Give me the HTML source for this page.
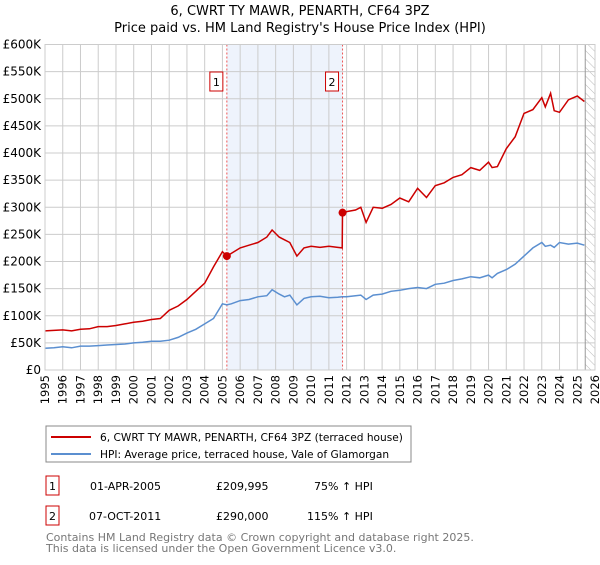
<!DOCTYPE html>
<html><head><meta charset="utf-8"><style>
body{margin:0;background:#fff;font-family:"Liberation Sans","DejaVu Sans",sans-serif;}
svg text{font-family:"DejaVu Sans","Liberation Sans",sans-serif;}
</style></head><body>
<svg id="c" width="600" height="560" xmlns="http://www.w3.org/2000/svg">
<defs><pattern id="hatch" width="6" height="6" patternUnits="userSpaceOnUse" patternTransform="rotate(-45)"><line x1="0" y1="0" x2="0" y2="6" stroke="#bbb" stroke-width="1"/></pattern></defs>
<text x="300" y="15" text-anchor="middle" font-size="13">6, CWRT TY MAWR, PENARTH, CF64 3PZ</text>
<text x="300" y="32" text-anchor="middle" font-size="13">Price paid vs. HM Land Registry's House Price Index (HPI)</text>
<g id="plot"></g>
<g>
<rect x="46" y="426" width="365" height="36" fill="#fff" stroke="#888"/>
<line x1="51" y1="437" x2="91" y2="437" stroke="#cc0000" stroke-width="2"/>
<text x="100" y="441" font-size="10.6">6, CWRT TY MAWR, PENARTH, CF64 3PZ (terraced house)</text>
<line x1="51" y1="454" x2="91" y2="454" stroke="#5b8fd0" stroke-width="2"/>
<text x="100" y="458" font-size="10.6">HPI: Average price, terraced house, Vale of Glamorgan</text>
</g>
<g>
<rect x="46" y="476" width="13" height="19" fill="none" stroke="#cc0000"/>
<text x="52.5" y="490" font-size="11" text-anchor="middle">1</text>
<text x="90" y="490" font-size="11">01-APR-2005</text>
<text x="216" y="490" font-size="11">£209,995</text>
<text x="314" y="490" font-size="11">75% ↑ HPI</text>
<rect x="46" y="506" width="13" height="19" fill="none" stroke="#cc0000"/>
<text x="52.5" y="520" font-size="11" text-anchor="middle">2</text>
<text x="89" y="520" font-size="11">07-OCT-2011</text>
<text x="216" y="520" font-size="11">£290,000</text>
<text x="307" y="520" font-size="11">115% ↑ HPI</text>
</g>
<text x="46" y="541" font-size="11" fill="#777">Contains HM Land Registry data © Crown copyright and database right 2025.</text>
<text x="46" y="552" font-size="11" fill="#777">This data is licensed under the Open Government Licence v3.0.</text>
</svg>
<script>
const years=[1995,1995.5,1996,1996.5,1997,1997.5,1998,1998.5,1999,1999.5,2000,2000.5,2001,2001.5,2002,2002.5,2003,2003.5,2004,2004.5,2005,2005.25,2005.5,2006,2006.5,2007,2007.5,2007.8,2008.2,2008.5,2008.8,2009.2,2009.6,2010,2010.5,2011,2011.5,2011.75,2011.77,2012,2012.5,2012.8,2013.1,2013.5,2014,2014.5,2015,2015.5,2016,2016.5,2017,2017.5,2018,2018.5,2019,2019.5,2020,2020.2,2020.5,2021,2021.5,2022,2022.5,2023,2023.2,2023.5,2023.7,2024,2024.5,2025,2025.4];
const hpi=[40,41,43,41,44,44,45,46,47,48,50,51,53,53,55,60,68,75,85,95,122,120,122,128,130,135,137,148,140,135,138,120,132,135,136,133,134,135,135,135,137,138,130,138,140,145,147,150,152,150,158,160,165,168,172,170,175,170,178,185,195,210,225,235,228,230,226,235,232,234,230];
const price=[72,73,74,72,75,76,80,80,82,85,88,90,93,95,110,118,130,145,160,190,218,210,215,225,230,235,245,258,245,240,235,210,225,228,226,228,226,225,290,292,295,300,272,300,298,305,317,310,335,318,340,345,355,360,373,368,383,373,375,408,430,473,480,502,485,510,478,475,498,505,495];
const yTicks=[0,50,100,150,200,250,300,350,400,450,500,550,600];
const xTicks=[1995,1996,1997,1998,1999,2000,2001,2002,2003,2004,2005,2006,2007,2008,2009,2010,2011,2012,2013,2014,2015,2016,2017,2018,2019,2020,2021,2022,2023,2024,2025,2026];
const sales=[{n:"1",t:2005.25,v:209.995},{n:"2",t:2011.77,v:290}];
const X0=45,X1=595,Y0=370,Y1=44.5;
const xs=t=>X0+(t-1995)/(2026-1995)*(X1-X0);
const ys=v=>Y0-v/600*(Y0-Y1);
const NS="http://www.w3.org/2000/svg";
const g=document.getElementById('plot');
function mk(tag,a,parent){const e=document.createElementNS(NS,tag);for(const k in a)e.setAttribute(k,a[k]);(parent||g).appendChild(e);return e;}
let r=mk('rect',{x:xs(2005.25),y:Y1,width:xs(2011.77)-xs(2005.25),height:Y0-Y1,fill:'#eef3fc'});


r=mk('rect',{x:xs(2025.45),y:Y1,width:X1-xs(2025.45),height:Y0-Y1,fill:'url(#hatch)'});


yTicks.forEach(v=>{
 mk('line',{x1:X0,x2:X1,y1:ys(v),y2:ys(v),stroke:'#ccc'});
 const t=mk('text',{x:X0-4,y:ys(v)+4,'text-anchor':'end','font-size':12});
 t.textContent=v===0?'£0':'£'+v+'K';
 
 
});
xTicks.forEach(y=>{
 mk('line',{x1:xs(y),x2:xs(y),y1:Y1,y2:Y0,stroke:'#ccc'});
 const t=mk('text',{x:0,y:0,'font-size':11.5,transform:`translate(${xs(y)+4},${Y0+5}) rotate(-90)`,'text-anchor':'end'});
 t.textContent=y;
 
 
});
mk('line',{x1:xs(2025.45),x2:xs(2025.45),y1:Y1,y2:Y0,stroke:'#999'});
sales.forEach(s=>{
 const l=mk('line',{x1:xs(s.t),x2:xs(s.t),y1:Y1,y2:Y0,stroke:'#e55','stroke-dasharray':'2,2'});
 
 
 const b=mk('rect',{x:xs(s.t)-17,y:72,width:13,height:19,fill:'#fff',stroke:'#cc0000'});
 
 
 const t=mk('text',{x:xs(s.t)-10.5,y:86,'text-anchor':'middle','font-size':11});
 t.textContent=s.n;
});
const pts=arr=>arr.map((v,i)=>xs(years[i]).toFixed(1)+','+ys(v).toFixed(1)).join(' ');
let p=mk('polyline',{points:pts(hpi),fill:'none',stroke:'#5b8fd0','stroke-width':1.5});


p=mk('polyline',{points:pts(price),fill:'none',stroke:'#cc0000','stroke-width':1.5});


sales.forEach(s=>{
 const c=mk('circle',{cx:xs(s.t),cy:ys(s.v),r:4,fill:'#cc0000'});
 
 
});
mk('rect',{x:X0,y:Y1,width:X1-X0,height:Y0-Y1,fill:'none',stroke:'#ccc'});
</script>
</body></html>
